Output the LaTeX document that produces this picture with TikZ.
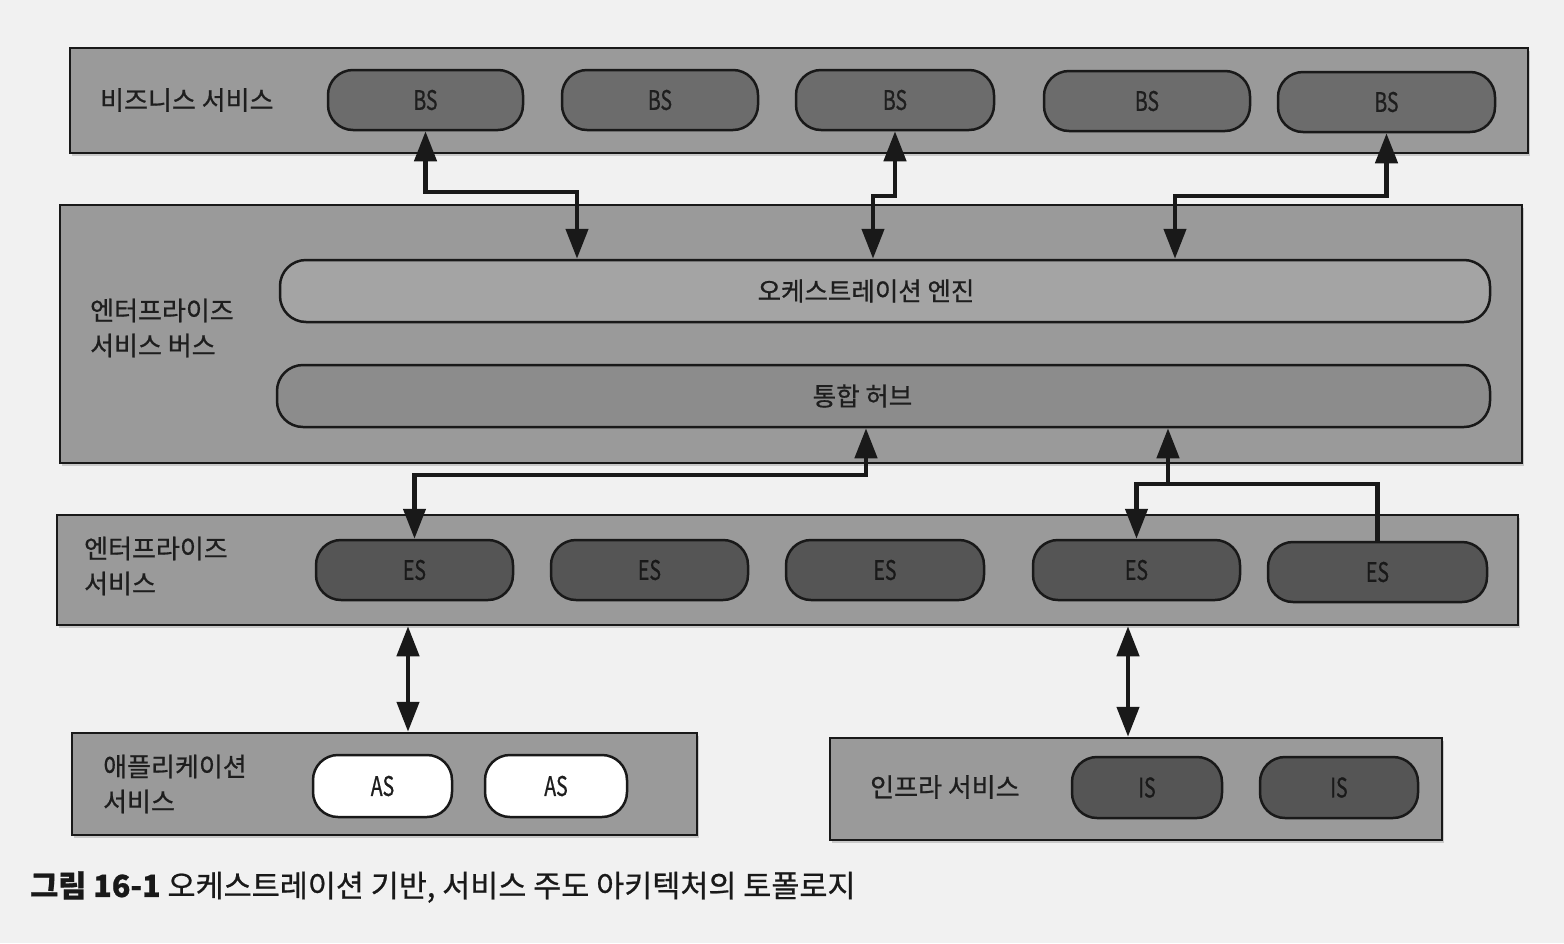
\documentclass[tikz,border=0pt]{standalone}
\usepackage{fontspec}
\setmainfont{Noto Sans CJK KR}
\newfontfamily\kr[FakeBold=0.7]{Noto Sans CJK KR}
\newfontfamily\krn[FakeStretch=0.72,FakeBold=0.7]{Noto Sans CJK KR}
\usetikzlibrary{arrows.meta,shadows}
\definecolor{pagebg}{HTML}{F1F1F1}
\definecolor{bandfill}{HTML}{9A9A9A}
\definecolor{enginefill}{HTML}{A4A4A4}
\definecolor{hubfill}{HTML}{8C8C8C}
\definecolor{bsfill}{HTML}{6C6C6C}
\definecolor{esfill}{HTML}{555555}
\definecolor{txt}{HTML}{1E1E1E}
\tikzset{
  band/.style={draw=black!90, line width=2.5pt, fill=bandfill, inner sep=0pt,
    drop shadow={shadow xshift=2pt, shadow yshift=-3pt, opacity=0.35}},
  bar/.style={draw=black!90, line width=2.5pt, rounded corners=26pt, inner sep=0pt,
    minimum height=62pt, text=txt, font=\kr\fontsize{25.5}{28}\selectfont},
  pill/.style={draw=black!90, line width=2.5pt, rounded corners=25pt, inner sep=0pt,
    minimum height=60pt, text=txt, font=\krn\fontsize{27}{30}\selectfont},
  bspill/.style={pill, fill=bsfill},
  espill/.style={pill, fill=esfill, text=black!90},
  aspill/.style={pill, fill=white, minimum height=62pt},
  lbl/.style={anchor=west, align=left, text=txt, inner sep=0pt,
    font=\kr\fontsize{26}{35}\selectfont},
  dbl/.style={line width=4.5pt, draw=black!90,
    {Triangle[length=30pt,width=22pt]}-{Triangle[length=30pt,width=22pt]}},
  plainline/.style={line width=4.5pt, draw=black!90},
}
\begin{document}
\begin{tikzpicture}[x=1pt,y=-1pt]
\fill[pagebg] (0,0) rectangle (1564,943);
\useasboundingbox (0,0) rectangle (1564,943);

% bands
\node[band, minimum width=1458pt, minimum height=105pt] (bsband) at (799,100.5) {};
\node[band, minimum width=1462pt, minimum height=258pt] (esb) at (791,334) {};
\node[band, minimum width=1461pt, minimum height=110pt] (esband) at (787.5,570) {};
\node[band, minimum width=625pt, minimum height=102pt] (asband) at (384.5,784) {};
\node[band, minimum width=612pt, minimum height=102pt] (isband) at (1136,789) {};

% band labels
\node[lbl] (lbs) at (100,100) {비즈니스 서비스};
\node[lbl] (lesb) at (90,328) {엔터프라이즈\\서비스 버스};
\node[lbl] (les) at (84,566) {엔터프라이즈\\서비스};
\node[lbl] (las) at (103,784) {애플리케이션\\서비스};
\node[lbl] (lis) at (870,787) {인프라 서비스};

% ESB bars
\node[bar, fill=enginefill, minimum width=1210pt] (engine) at (885,291) {\hspace*{-38pt}오케스트레이션 엔진};
\node[bar, fill=hubfill, minimum width=1213pt] (hub) at (883.5,396) {\hspace*{-42pt}통합 허브};

% BS pills
\node[bspill, minimum width=195pt] (bs1) at (425.5,100) {BS};
\node[bspill, minimum width=196pt] (bs2) at (660,100) {BS};
\node[bspill, minimum width=198pt] (bs3) at (895,100) {BS};
\node[bspill, minimum width=206pt] (bs4) at (1147,101) {BS};
\node[bspill, minimum width=217pt] (bs5) at (1386.5,102) {BS};

% ES pills
\node[espill, minimum width=197pt] (es1) at (414.5,570) {ES};
\node[espill, minimum width=197pt] (es2) at (649.5,570) {ES};
\node[espill, minimum width=198pt] (es3) at (885,570) {ES};
\node[espill, minimum width=207pt] (es4) at (1136.5,570) {ES};
\node[espill, minimum width=219pt] (es5) at (1377.5,572) {ES};

% AS pills
\node[aspill, minimum width=139pt] (as1) at (382.5,786) {AS};
\node[aspill, minimum width=142pt] (as2) at (556,786) {AS};

% IS pills
\node[espill, minimum width=150pt, minimum height=61pt] (is1) at (1147,787.5) {IS};
\node[espill, minimum width=158pt, minimum height=61pt] (is2) at (1339,787.5) {IS};

% connectors BS <-> engine
\draw[dbl] (bs1.south) |- (577,192) -- (577,192 |- engine.north);
\draw[dbl] (bs3.south) |- (873,196) -- (873,196 |- engine.north);
\draw[dbl] (bs5.south) |- (1175,196) -- (1175,196 |- engine.north);

% connectors hub <-> ES
\draw[dbl] (es1.north) |- (866,475) -- (866,475 |- hub.south);
\draw[dbl] (es4.north) |- (1168,484) -- (1168,484 |- hub.south);
\draw[plainline] (1166,484) -| (es5.north);

% ES <-> AS / IS
\draw[dbl] (408,0 |- esband.south) -- (408,0 |- asband.north);
\draw[dbl] (1128,0 |- esband.south) -- (1128,0 |- isband.north);

% caption
\node[anchor=west, inner sep=0pt, text=black!90, font=\kr\fontsize{30.5}{34}\selectfont] (cap) at (30,887)
  {\textbf{그림 16-1} 오케스트레이션 기반, 서비스 주도 아키텍처의 토폴로지};
\end{tikzpicture}
\end{document}
